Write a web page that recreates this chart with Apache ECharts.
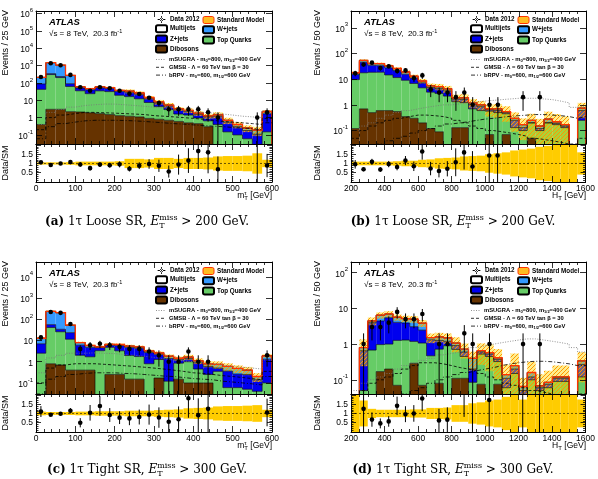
<!DOCTYPE html>
<html>
<head>
<meta charset="utf-8">
<script src="https://cdn.jsdelivr.net/npm/echarts@6/dist/echarts.min.js"></script>
<style>
html, body { margin: 0; padding: 0; background: #fff; }
#container { width: 598px; height: 479px; }
</style>
</head>
<body>
<div id="container"></div>
<script>
// bin low edges
var massBins = [0, 25, 50, 75, 100, 125, 150, 175, 200, 225, 250, 275, 300, 325, 350, 375, 400, 425, 450, 475, 500, 525, 550, 575];
var htBins = [200, 250, 300, 350, 400, 450, 500, 550, 600, 650, 700, 750, 800, 850, 900, 950, 1000, 1050, 1100, 1150, 1200, 1250, 1300, 1350, 1400, 1450, 1500, 1550];

// (a) loose SR, mT(tau)
var looseMtDib = [0.4, 3, 3, 2.2, 2.1, 1.9, 1.7, 1.5, 1.3, 1.2, 1.1, 0.9, 0.8, 0.7, 0.6, 0.5, 0.45, 0.3, 0, 0, 0, 0, 0, 0];
var looseMtTop = [42, 300, 200, 60, 33, 22, 33, 30, 18, 15, 11, 6.5, 3.5, 2.2, 1.0, 0.9, 0.5, 0.35, 0.4, 0.15, 0.1, 0.06, 0.01, 0.15];
var looseMtZ = [45, 40, 30, 28, 16, 16, 18, 16, 13, 13, 10, 5, 2.7, 1.8, 1.2, 0.9, 0.6, 0.45, 0.8, 0.4, 0.2, 0.12, 0.1, 1.5];
var looseMtW = [120, 1130, 820, 180, 8, 7, 7, 6.5, 4.5, 4.5, 4, 2, 1, 0.6, 0.4, 0.3, 0.25, 0.15, 0.25, 0.15, 0.1, 0.07, 0.08, 0.6];
var looseMtMulti = [0, 0, 0, 0, 0, 0, 0, 0, 0, 0, 0, 0, 0, 0, 0, 0, 0, 0, 0, 0, 0, 0, 0, 0];
var looseMtData = [220, 1350, 1050, 290, 56, 35, 56, 49, 35, 24, 23, 14, 7, 3, 3, 3, 3, 2, 1, 0, 0, 0, 1, 2];
var looseMtUnc = [0.06, 0.06, 0.06, 0.07, 0.1, 0.1, 0.1, 0.1, 0.12, 0.25, 0.25, 0.22, 0.3, 0.3, 0.25, 0.3, 0.3, 0.32, 0.38, 0.4, 0.4, 0.42, 0.55, 0.2];
var looseMtSugra = [0.4, 2, 3, 4, 5, 5.5, 6, 6, 5.5, 5, 4.5, 4, 3.5, 3, 2.6, 2.3, 2, 1.8, 1.6, 1.4, 1.2, 1.1, 1, 2.5];
var looseMtGmsb = [0.2, 1, 1.4, 1.7, 2, 2, 1.9, 1.8, 1.7, 1.6, 1.5, 1.3, 1.2, 1.1, 1, 0.9, 0.8, 0.7, 0.6, 0.55, 0.5, 0.45, 0.4, 0.9];
var looseMtRpv = [0.06, 0.3, 0.45, 0.55, 0.65, 0.7, 0.7, 0.7, 0.68, 0.65, 0.6, 0.55, 0.5, 0.45, 0.42, 0.38, 0.35, 0.32, 0.3, 0.27, 0.25, 0.23, 0.2, 0.5];

// (b) loose SR, HT
var looseHtDib = [0.12, 0.7, 0.5, 0.6, 0.6, 0.55, 0.35, 0.3, 0.2, 0.12, 0.09, 0, 0.13, 0.13, 0, 0, 0.07, 0, 0.07, 0, 0, 0.05, 0, 0, 0, 0, 0, 0];
var looseHtTop = [9.5, 17, 18, 18, 14, 11, 8.7, 6.5, 4.4, 3, 2.7, 2.2, 1.2, 1.1, 0.7, 0.6, 0.5, 0.5, 0.38, 0.13, 0.1, 0.15, 0.1, 0.2, 0.17, 0.13, 0, 0.25];
var looseHtZ = [5.5, 28, 16, 15, 13, 10, 6.5, 4.2, 2.6, 1.6, 1.5, 1.3, 0.35, 0.4, 0.35, 0.25, 0.08, 0.1, 0.05, 0.12, 0.03, 0, 0.02, 0, 0.02, 0.02, 0, 0.35];
var looseHtW = [2.7, 8, 6, 6.5, 5.5, 4.5, 3.5, 2, 1.3, 0.8, 0.8, 0.7, 0.2, 0.25, 0.15, 0.15, 0.05, 0.1, 0.05, 0.05, 0.04, 0.05, 0.03, 0.08, 0.03, 0.02, 0, 0.15];
var looseHtMulti = [0, 0, 0, 0, 0, 0, 0, 0, 0, 0, 0, 0, 0, 0, 0, 0, 0, 0, 0, 0, 0, 0, 0, 0, 0, 0, 0, 0];
var looseHtData = [17, 37, 44, 27, 32, 21, 22, 11, 14, 4, 3, 3, 2, 3, 1, 0, 1, 1, 0, 0, 2, 0, 2, 0, 0, 0, 0, 0];
var looseHtUnc = [0.1, 0.1, 0.1, 0.1, 0.1, 0.12, 0.15, 0.15, 0.2, 0.22, 0.28, 0.3, 0.32, 0.38, 0.4, 0.42, 0.5, 0.55, 0.6, 0.7, 0.75, 0.8, 0.9, 0.95, 1.0, 1.1, 10, 0.6];
var looseHtSugra = [0.1, 0.15, 0.2, 0.3, 0.4, 0.5, 0.6, 0.7, 0.8, 0.9, 1, 1, 1.1, 1.2, 1.3, 1.4, 1.5, 1.6, 1.7, 1.8, 1.8, 1.8, 1.7, 1.6, 1.4, 1.2, 0.8, 0.9];
var looseHtGmsb = [0.05, 0.1, 0.15, 0.2, 0.25, 0.3, 0.35, 0.4, 0.4, 0.38, 0.35, 0.3, 0.25, 0.2, 0.15, 0.12, 0.1, 0.09, 0.08, 0.07, 0.06, 0.05, 0.045, 0.04, 0.035, 0.03, 0.03, 0.05];
var looseHtRpv = [0.01, 0.015, 0.02, 0.03, 0.04, 0.05, 0.06, 0.08, 0.1, 0.12, 0.15, 0.18, 0.2, 0.22, 0.25, 0.28, 0.3, 0.33, 0.36, 0.38, 0.4, 0.42, 0.42, 0.4, 0.38, 0.35, 0.3, 0.35];

// (c) tight SR, mT(tau)
var tightMtDib = [0, 0.8, 0.7, 0.4, 0.4, 0.4, 0, 0.25, 0.25, 0.15, 0.15, 0, 0.17, 0, 0.15, 0.1, 0.1, 0.1, 0, 0, 0, 0, 0, 0];
var tightMtTop = [2.5, 40, 25, 11, 1.6, 1.3, 3.3, 4.5, 3, 1.8, 1.6, 0.8, 1.1, 0.12, 0.7, 0.9, 0.35, 0.15, 0.35, 0.06, 0.06, 0.05, 0.04, 0.1];
var tightMtZ = [4.5, 15, 8, 12, 4, 3, 1.3, 1.3, 2.5, 2.8, 2.6, 1.9, 1.0, 1.3, 0.4, 0.4, 0.45, 0.35, 0.15, 0.3, 0.2, 0.2, 0.1, 1.2];
var tightMtW = [5.7, 180, 170, 29, 2, 1.1, 0.4, 0.5, 0.7, 0.7, 0.6, 0.5, 0.3, 0.4, 0.2, 0.25, 0.2, 0.2, 0.25, 0.24, 0.22, 0.15, 0.06, 0.6];
var tightMtMulti = [0, 0, 0, 0, 0, 0, 0, 0, 0, 0, 0, 0, 0, 0, 0, 0, 0, 0, 0, 0, 0, 0, 0, 0];
var tightMtData = [14, 220, 200, 60, 4, 6, 7, 6, 5, 4, 4, 3, 2, 1, 1, 3, 1, 1, 0, 0, 0, 0, 0, 2];
var tightMtUnc = [0.1, 0.08, 0.08, 0.08, 0.1, 0.1, 0.12, 0.12, 0.12, 0.15, 0.15, 0.15, 0.18, 0.2, 0.22, 0.28, 0.3, 0.32, 0.38, 0.4, 0.4, 0.42, 0.45, 0.2];
var tightMtSugra = [0.3, 1.5, 2, 2.5, 2.5, 2.6, 2.5, 2.4, 2.2, 2, 1.8, 1.6, 1.4, 1.2, 1.1, 1, 0.9, 0.8, 0.7, 0.6, 0.55, 0.5, 0.45, 1.2];
var tightMtGmsb = [0.1, 0.5, 0.7, 0.8, 0.8, 0.8, 0.75, 0.7, 0.65, 0.6, 0.55, 0.5, 0.45, 0.4, 0.35, 0.3, 0.28, 0.25, 0.22, 0.2, 0.18, 0.16, 0.14, 0.35];
var tightMtRpv = [0.03, 0.15, 0.2, 0.25, 0.28, 0.3, 0.3, 0.3, 0.28, 0.27, 0.25, 0.23, 0.21, 0.2, 0.18, 0.16, 0.15, 0.14, 0.12, 0.11, 0.1, 0.09, 0.08, 0.2];

// (d) tight SR, HT
var tightHtDib = [0, 0, 0, 0.17, 0.2, 0.07, 0, 0.29, 0.07, 0, 0.08, 0, 0.11, 0.11, 0, 0.075, 0, 0.075, 0, 0, 0, 0, 0, 0, 0, 0, 0, 0];
var tightHtTop = [0, 0.05, 0.68, 0.8, 0.8, 1.2, 1.3, 0.9, 1.0, 0.47, 0.64, 0.9, 0.6, 0.34, 0.085, 0.45, 0.45, 0.25, 0.06, 0.15, 0.03, 0.1, 0.05, 0.06, 0.09, 0.09, 0, 0.12];
var tightHtZ = [0, 0.6, 3.3, 3.5, 4.5, 2.8, 2.6, 1.9, 1.4, 0.85, 0.55, 0.3, 0.2, 0.15, 0.115, 0.08, 0.08, 0.05, 0.05, 0.05, 0.02, 0.02, 0.01, 0.015, 0.02, 0.02, 0, 0.15];
var tightHtW = [0, 0.15, 0.5, 2, 1.5, 1.6, 1.3, 1.9, 1.4, 0.2, 0.33, 0.3, 0.16, 0.12, 0.2, 0.05, 0.05, 0.04, 0.03, 0.05, 0.015, 0.04, 0.008, 0.01, 0.01, 0.01, 0, 0.07];
var tightHtMulti = [0, 0, 0, 0, 0, 0, 0, 0, 0, 0, 0, 0, 0, 0, 0, 0, 0, 0, 0, 0, 0, 0, 0, 0, 0, 0, 0, 0];
var tightHtData = [0, 1, 3, 3, 4, 8, 5, 5, 7, 0, 1, 1, 0, 2, 1, 0, 1, 0, 0, 0, 1, 0, 1, 0, 0, 0, 0, 0];
var tightHtUnc = [10, 0.7, 0.25, 0.2, 0.2, 0.2, 0.2, 0.22, 0.22, 0.3, 0.3, 0.32, 0.45, 0.45, 0.55, 0.6, 0.7, 0.75, 0.9, 1.2, 0.75, 1.0, 1.1, 1.1, 1.1, 1.1, 10, 0.75];
var tightHtSugra = [0.05, 0.08, 0.1, 0.12, 0.15, 0.2, 0.25, 0.3, 0.35, 0.4, 0.5, 0.55, 0.6, 0.7, 0.8, 0.9, 1, 1.1, 1.2, 1.3, 1.4, 1.4, 1.3, 1.2, 1.1, 1.0, 0.8, 0.6];
var tightHtGmsb = [0.02, 0.05, 0.08, 0.1, 0.12, 0.15, 0.2, 0.25, 0.3, 0.3, 0.28, 0.25, 0.22, 0.2, 0.18, 0.15, 0.12, 0.1, 0.08, 0.07, 0.06, 0.05, 0.045, 0.04, 0.035, 0.03, 0.03, 0.04];
var tightHtRpv = [0.005, 0.01, 0.015, 0.02, 0.025, 0.03, 0.04, 0.05, 0.06, 0.08, 0.1, 0.12, 0.14, 0.16, 0.18, 0.2, 0.22, 0.25, 0.28, 0.3, 0.32, 0.33, 0.33, 0.32, 0.3, 0.28, 0.25, 0.25];

var FLOOR = 1e-4;
var SANS = '"Liberation Sans", Arial, sans-serif';
var SERIF = '"DejaVu Serif", serif';

// hatched fill for the SM uncertainty band
var hatch = document.createElement('canvas');
hatch.width = 4; hatch.height = 4;
var hctx = hatch.getContext('2d');
hctx.fillStyle = 'rgba(255,215,0,0.45)';
hctx.fillRect(0, 0, 4, 4);
hctx.strokeStyle = '#ff9900';
hctx.lineWidth = 1;
hctx.beginPath(); hctx.moveTo(0, 4); hctx.lineTo(4, 0); hctx.moveTo(-1, 1); hctx.lineTo(1, -1); hctx.moveTo(3, 5); hctx.lineTo(5, 3); hctx.stroke();

var COL = { dib: '#663300', top: '#66cc66', z: '#0000ee', w: '#3399ff', multi: '#ffffff',
            band: { image: hatch, repeat: 'repeat' }, ratio: '#ffcc00', sm: '#ff3300' };

var panels = [
    { binW: 25, edges: massBins, xMin: 0, xMax: 600, xStep: 100, xMinor: 5, yMin: 0.03, yMax: 1.4e6,
      dib: looseMtDib, topq: looseMtTop, zj: looseMtZ, wj: looseMtW, multi: looseMtMulti, data: looseMtData, unc: looseMtUnc,
      sugra: looseMtSugra, gmsb: looseMtGmsb, rpv: looseMtRpv,
      left: 36, top: 11, width: 236, height: 133, ratioH: 38, yTitleX: 6, capX: 147, capY: 222,
      yTitle: 'Events / 25 GeV', xVar: 'mt', tag: '(a)', region: ' 1\u03c4 Loose SR, ', cut: ' > 200 GeV.' },
    { binW: 50, edges: htBins, xMin: 200, xMax: 1600, xStep: 200, xMinor: 4, yMin: 0.03, yMax: 4500,
      dib: looseHtDib, topq: looseHtTop, zj: looseHtZ, wj: looseHtW, multi: looseHtMulti, data: looseHtData, unc: looseHtUnc,
      sugra: looseHtSugra, gmsb: looseHtGmsb, rpv: looseHtRpv,
      left: 351, top: 11, width: 235, height: 133, ratioH: 38, yTitleX: 318, capX: 453, capY: 222,
      yTitle: 'Events / 50 GeV', xVar: 'ht', tag: '(b)', region: ' 1\u03c4 Loose SR, ', cut: ' > 200 GeV.' },
    { binW: 25, edges: massBins, xMin: 0, xMax: 600, xStep: 100, xMinor: 5, yMin: 0.03, yMax: 5e4,
      dib: tightMtDib, topq: tightMtTop, zj: tightMtZ, wj: tightMtW, multi: tightMtMulti, data: tightMtData, unc: tightMtUnc,
      sugra: tightMtSugra, gmsb: tightMtGmsb, rpv: tightMtRpv,
      left: 36, top: 262, width: 236, height: 132, ratioH: 38, yTitleX: 6, capX: 147, capY: 470,
      yTitle: 'Events / 25 GeV', xVar: 'mt', tag: '(c)', region: ' 1\u03c4 Tight SR, ', cut: ' > 300 GeV.' },
    { binW: 50, edges: htBins, xMin: 200, xMax: 1600, xStep: 200, xMinor: 4, yMin: 0.04, yMax: 200,
      dib: tightHtDib, topq: tightHtTop, zj: tightHtZ, wj: tightHtW, multi: tightHtMulti, data: tightHtData, unc: tightHtUnc,
      sugra: tightHtSugra, gmsb: tightHtGmsb, rpv: tightHtRpv,
      left: 351, top: 262, width: 235, height: 132, ratioH: 38, yTitleX: 318, capX: 453, capY: 470,
      yTitle: 'Events / 50 GeV', xVar: 'ht', tag: '(d)', region: ' 1\u03c4 Tight SR, ', cut: ' > 300 GeV.' }
];

var option = { animation: false, backgroundColor: '#fff', grid: [], xAxis: [], yAxis: [], series: [], legend: [], graphic: [] };

var measure = document.createElement('canvas').getContext('2d');
function textW(t, font) { measure.font = font; return measure.measureText(t).width; }

// lay out a line of text with sub/superscripts, returns graphic text elements
function scriptLine(tokens, ax, ay, align) {
    var widths = tokens.map(function (tk) {
        return tk.stack ? Math.max.apply(null, tk.stack.map(function (s) { return textW(s.t, s.font); })) : textW(tk.t, tk.font);
    });
    var total = widths.reduce(function (a, b) { return a + b; }, 0);
    var x = align === 'center' ? ax - total / 2 : (align === 'right' ? ax - total : ax);
    var els = [];
    tokens.forEach(function (tk, i) {
        (tk.stack || [tk]).forEach(function (s) {
            els.push({ type: 'text', x: x, y: ay + (s.dy || 0), silent: true,
                style: { text: s.t, font: s.font, fill: '#000', align: 'left', verticalAlign: 'middle' } });
        });
        x += widths[i];
    });
    return els;
}

function logLabel(v) {
    var e = Math.log10(v), r = Math.round(e);
    if (Math.abs(e - r) > 1e-6) return '';
    if (r === 0) return '{b|1}';
    if (r === 1) return '{b|10}';
    return '{b|10}{s|' + r + '}';
}

function xAxisDef(gi, pos, labels, P) {
    return { type: 'value', gridIndex: gi, position: pos, min: P.xMin, max: P.xMax, interval: P.xStep, z: 10,
        axisLine: { show: true, onZero: false, lineStyle: { color: '#000', width: 1 } },
        axisTick: { show: true, inside: true, length: 6, lineStyle: { color: '#000', width: 0.8 } },
        minorTick: { show: true, splitNumber: P.xMinor, length: 3, lineStyle: { color: '#000', width: 0.8 } },
        axisLabel: { show: labels, color: '#000', fontSize: 8.5, fontFamily: SANS, margin: 2,
            formatter: function (v) { return String(v); } },
        splitLine: { show: false } };
}
function logAxisDef(gi, pos, labels, P) {
    return { type: 'log', logBase: 10, gridIndex: gi, position: pos, min: P.yMin, max: P.yMax, z: 10,
        axisLine: { show: true, onZero: false, lineStyle: { color: '#000', width: 1 } },
        axisTick: { show: true, inside: true, length: 6, lineStyle: { color: '#000', width: 0.8 } },
        axisLabel: { show: labels, formatter: logLabel, margin: 3, color: '#000',
            rich: { b: { fontSize: 8.5, fontFamily: SANS, color: '#000', lineHeight: 12, verticalAlign: 'bottom' },
                    s: { fontSize: 6, fontFamily: SANS, color: '#000', lineHeight: 12, verticalAlign: 'top' } } },
        splitLine: { show: false } };
}
function ratioAxisDef(gi, pos, labels) {
    return { type: 'value', gridIndex: gi, position: pos, min: 0, max: 2.05, interval: 0.5, z: 10,
        axisLine: { show: true, onZero: false, lineStyle: { color: '#000', width: 1 } },
        axisTick: { show: true, inside: true, length: 5, lineStyle: { color: '#000', width: 0.8 } },
        minorTick: { show: true, splitNumber: 5, length: 2.5, lineStyle: { color: '#000', width: 0.8 } },
        axisLabel: { show: labels, color: '#000', fontSize: 8.5, fontFamily: SANS, margin: 3,
            formatter: function (v) { return v === 0.5 ? '0.5' : (v === 1 ? '1' : (v === 1.5 ? '1.5' : '')); } },
        splitLine: { show: false } };
}

function histItems(P, base, top) {
    return P.edges.map(function (e, i) {
        var nxt = i + 1 < top.length ? top[i + 1] : 0;
        return [e, e + P.binW, Math.max(base[i], FLOOR), Math.max(top[i], FLOOR), Math.max(nxt, FLOOR)];
    });
}
function histRender(fill, stroke, lw, zl) {
    return function (params, api) {
        var x0 = api.value(0), x1 = api.value(1), b = api.value(2), t = api.value(3), nt = api.value(4);
        var pb = api.coord([x0, b]), pt = api.coord([x1, t]), pn = api.coord([x1, nt]);
        var kids = [];
        if (fill && t > b) {
            kids.push({ type: 'rect', shape: { x: pb[0], y: pt[1], width: pt[0] - pb[0], height: pb[1] - pt[1] },
                style: { fill: fill }, z2: 0 });
        }
        kids.push({ type: 'polyline', shape: { points: [[pb[0], pt[1]], [pt[0], pt[1]], [pt[0], pn[1]]] },
            style: { stroke: stroke, lineWidth: lw, fill: 'none' }, z2: zl });
        if (params.dataIndex === 0) {
            var pf = api.coord([x0, FLOOR]);
            kids.push({ type: 'line', shape: { x1: pb[0], y1: pf[1], x2: pb[0], y2: pt[1] },
                style: { stroke: stroke, lineWidth: lw }, z2: zl });
        }
        return { type: 'group', children: kids };
    };
}
function bandRender(fill, zl) {
    return function (params, api) {
        var p0 = api.coord([api.value(0), api.value(2)]), p1 = api.coord([api.value(1), api.value(3)]);
        return { type: 'rect', shape: { x: p0[0], y: p1[1], width: p1[0] - p0[0], height: p0[1] - p1[1] },
            style: { fill: fill }, z2: zl };
    };
}
function pointRender(r) {
    return function (params, api) {
        var x = api.value(0);
        var c = api.coord([x, api.value(1)]), lo = api.coord([x, api.value(2)]), hi = api.coord([x, api.value(3)]);
        return { type: 'group', children: [
            { type: 'line', shape: { x1: c[0], y1: lo[1], x2: c[0], y2: hi[1] }, style: { stroke: '#000', lineWidth: 1 } },
            { type: 'circle', shape: { cx: c[0], cy: c[1], r: r }, style: { fill: '#000' } }
        ] };
    };
}

var signals = [
    { key: 'sugra', name: 'mSUGRA', color: '#777', dash: [1, 1.5], label: '{n|mSUGRA - m}{s|0}{n|=800, m}{s|1/2}{n|=400 GeV}' },
    { key: 'gmsb', name: 'GMSB', color: '#000', dash: [3, 2], label: '{n|GMSB - \u039b = 60 TeV tan \u03b2 = 30}' },
    { key: 'rpv', name: 'bRPV', color: '#000', dash: [4, 2, 1, 2], label: '{n|bRPV - m}{s|0}{n|=600, m}{s|1/2}{n|=600 GeV}' }
];
var sigRich = {
    n: { fontSize: 5.8, fontWeight: 'bold', fontFamily: SANS, fill: '#000', lineHeight: 7 },
    s: { fontSize: 4, fontWeight: 'bold', fontFamily: SANS, fill: '#000', lineHeight: 7, verticalAlign: 'bottom' }
};
var dataIcon = 'path://M0,4.4h11v1.2h-11z M4.9,0h1.2v10h-1.2z M5.5,2.6a2.4,2.4 0 1 0 0.01,0z';

function buildPanel(P) {
    var g = option.grid.length;
    option.grid.push({ left: P.left, top: P.top, width: P.width, height: P.height });
    option.grid.push({ left: P.left, top: P.top + P.height, width: P.width, height: P.ratioH });
    var xa = option.xAxis.length, ya = option.yAxis.length;
    option.xAxis.push(xAxisDef(g, 'bottom', false, P), xAxisDef(g, 'top', false, P),
                      xAxisDef(g + 1, 'bottom', true, P), xAxisDef(g + 1, 'top', false, P));
    option.yAxis.push(logAxisDef(g, 'left', true, P), logAxisDef(g, 'right', false, P),
                      ratioAxisDef(g + 1, 'left', true), ratioAxisDef(g + 1, 'right', false));
    var mainX = xa, mainY = ya, ratioX = xa + 2, ratioY = ya + 2;

    var comps = [
        { name: 'Dibosons', vals: P.dib, color: COL.dib },
        { name: 'Top Quarks', vals: P.topq, color: COL.top },
        { name: 'Z+jets', vals: P.zj, color: COL.z },
        { name: 'W+jets', vals: P.wj, color: COL.w },
        { name: 'Multijets', vals: P.multi, color: COL.multi }
    ];
    var run = P.edges.map(function () { return 0; });
    comps.forEach(function (c) {
        var base = run.slice();
        run = run.map(function (v, i) { return v + c.vals[i]; });
        option.series.push({ type: 'custom', name: c.name, xAxisIndex: mainX, yAxisIndex: mainY, clip: true, silent: true,
            itemStyle: { color: c.color, borderColor: '#000', borderWidth: 0.6 },
            encode: { x: [0, 1], y: [2, 3] }, renderItem: histRender(c.color, '#000', 0.6, 10), data: histItems(P, base, run) });
    });
    var total = run;

    // SM uncertainty band and total line
    var bandItems = [];
    total.forEach(function (t, i) {
        if (t <= 0) return;
        bandItems.push([P.edges[i], P.edges[i] + P.binW, Math.max(t * (1 - P.unc[i]), FLOOR), Math.max(t * (1 + P.unc[i]), FLOOR)]);
    });
    option.series.push({ type: 'custom', name: 'Standard Model', xAxisIndex: mainX, yAxisIndex: mainY, clip: true, silent: true,
        itemStyle: { color: '#ffbb22', borderColor: COL.sm, borderWidth: 1 },
        encode: { x: [0, 1], y: [2, 3] }, renderItem: bandRender(COL.band, 5), data: bandItems });
    option.series.push({ type: 'custom', xAxisIndex: mainX, yAxisIndex: mainY, clip: true, silent: true,
        encode: { x: [0, 1], y: [2, 3] }, renderItem: histRender(null, COL.sm, 1.3, 12),
        data: histItems(P, total.map(function () { return 0; }), total) });

    // signal overlays
    signals.forEach(function (s) {
        var vals = P[s.key];
        var pts = P.edges.map(function (e, i) { return [e, vals[i]]; });
        pts.push([P.edges[P.edges.length - 1] + P.binW, vals[vals.length - 1]]);
        option.series.push({ type: 'line', name: s.name, xAxisIndex: mainX, yAxisIndex: mainY, step: 'end', symbol: 'none',
            z: 3, silent: true, data: pts, lineStyle: { color: s.color, type: s.dash, width: 0.8 } });
    });

    // data points
    var dataItems = [], ratioItems = [];
    P.data.forEach(function (n, i) {
        if (n <= 0) return;
        var xc = P.edges[i] + P.binW / 2, e = Math.sqrt(n);
        dataItems.push([xc, n, Math.max(n - e, FLOOR), n + e]);
        if (total[i] > 0) ratioItems.push([xc, n / total[i], (n - e) / total[i], (n + e) / total[i]]);
    });
    option.series.push({ type: 'custom', name: 'Data 2012', xAxisIndex: mainX, yAxisIndex: mainY, clip: true, silent: true, z: 4,
        itemStyle: { color: '#000' }, encode: { x: 0, y: [1, 2, 3] }, renderItem: pointRender(2.3), data: dataItems });

    // ratio panel
    var rband = P.unc.map(function (u, i) { return [P.edges[i], P.edges[i] + P.binW, 1 - u, 1 + u]; });
    option.series.push({ type: 'custom', xAxisIndex: ratioX, yAxisIndex: ratioY, clip: true, silent: true,
        encode: { x: [0, 1], y: [2, 3] }, renderItem: bandRender(COL.ratio, 0), data: rband });
    option.series.push({ type: 'line', xAxisIndex: ratioX, yAxisIndex: ratioY, symbol: 'none', silent: true, z: 3,
        data: [[P.xMin, 1], [P.xMax, 1]], lineStyle: { color: '#000', type: [2, 2], width: 0.6 } });
    option.series.push({ type: 'custom', xAxisIndex: ratioX, yAxisIndex: ratioY, clip: true, silent: true, z: 4,
        encode: { x: 0, y: [1, 2, 3] }, renderItem: pointRender(2.3), data: ratioItems });

    // legends
    var legText = { fontSize: 6.3, fontWeight: 'bold', fontFamily: SANS, color: '#000', lineHeight: 7, padding: [0, 0, 0, -2] };
    option.legend.push({ data: [{ name: 'Data 2012', icon: dataIcon }, 'Multijets', 'Z+jets', 'Dibosons'],
        orient: 'vertical', left: P.left + 119, top: P.top + 5, itemWidth: 11, itemHeight: 7, itemGap: 1.2,
        padding: 0, selectedMode: false, textStyle: legText });
    option.legend.push({ data: [{ name: 'Standard Model', itemStyle: { color: '#ffbb22', borderColor: COL.sm, borderWidth: 1 } }, 'W+jets', 'Top Quarks'],
        orient: 'vertical', left: P.left + 166, top: P.top + 5, itemWidth: 11, itemHeight: 7, itemGap: 1.2,
        padding: 0, selectedMode: false, textStyle: legText });

    var G = option.graphic;
    // signal legend entries
    signals.forEach(function (s, k) {
        var y = P.top + 48.5 + k * 7.8;
        G.push({ type: 'line', silent: true, shape: { x1: P.left + 120, y1: y, x2: P.left + 130, y2: y },
            style: { stroke: s.color, lineWidth: 0.8, lineDash: s.dash } });
        G.push({ type: 'text', silent: true, x: P.left + 133, y: y,
            style: { text: s.label, rich: sigRich, fill: '#000', verticalAlign: 'middle' } });
    });

    // texts
    G.push({ type: 'text', x: P.left + 13, y: P.top + 11, silent: true,
        style: { text: 'ATLAS', font: 'italic bold 9.5px ' + SANS, fill: '#000', verticalAlign: 'middle' } });
    scriptLine([{ t: '\u221as = 8 TeV,  20.3 fb', font: '8px ' + SANS }, { t: '-1', font: '5.5px ' + SANS, dy: -3 }],
        P.left + 13, P.top + 23, 'left').forEach(function (el) { G.push(el); });
    G.push({ type: 'text', x: P.yTitleX, y: P.top - 1, rotation: Math.PI / 2, silent: true,
        style: { text: P.yTitle, font: '9px ' + SANS, fill: '#000', align: 'right', verticalAlign: 'middle' } });
    G.push({ type: 'text', x: P.yTitleX, y: P.top + P.height + P.ratioH / 2, rotation: Math.PI / 2, silent: true,
        style: { text: 'Data/SM', font: '9px ' + SANS, fill: '#000', align: 'center', verticalAlign: 'middle' } });
    var xt = P.xVar === 'mt'
        ? [{ t: 'm', font: '8.5px ' + SANS }, { stack: [{ t: '\u03c4', font: '6px ' + SANS, dy: -3 }, { t: 'T', font: '6px ' + SANS, dy: 2.5 }] }, { t: ' [GeV]', font: '8.5px ' + SANS }]
        : [{ t: 'H', font: '8.5px ' + SANS }, { t: 'T', font: '6px ' + SANS, dy: 2.5 }, { t: ' [GeV]', font: '8.5px ' + SANS }];
    scriptLine(xt, P.left + P.width, P.top + P.height + P.ratioH + 14, 'right').forEach(function (el) { G.push(el); });
    scriptLine([
        { t: P.tag, font: 'bold 12px ' + SERIF },
        { t: P.region, font: '12px ' + SERIF },
        { t: 'E', font: 'italic 12px ' + SERIF },
        { stack: [{ t: 'miss', font: '8px ' + SERIF, dy: -4.5 }, { t: 'T', font: '8px ' + SERIF, dy: 3.5 }] },
        { t: P.cut, font: '12px ' + SERIF }
    ], P.capX, P.capY, 'center').forEach(function (el) { G.push(el); });
}

panels.forEach(buildPanel);

var chart = echarts.init(document.getElementById('container'));
chart.setOption(option);
</script>
</body>
</html>
